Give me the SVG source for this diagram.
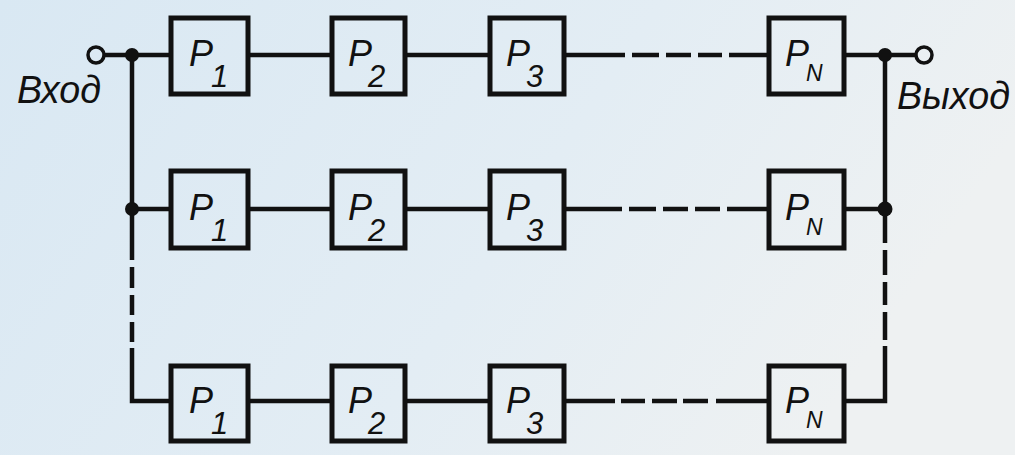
<svg xmlns="http://www.w3.org/2000/svg" width="1015" height="455" viewBox="0 0 1015 455">
<defs>
<linearGradient id="bg" x1="0" y1="0" x2="1" y2="0.3">
<stop offset="0" stop-color="#d9e8f3"/>
<stop offset="0.6" stop-color="#e3edf4"/>
<stop offset="1" stop-color="#eef1f2"/>
</linearGradient>
<style>
.box{fill:none;stroke:#111;stroke-width:5}
.ln{fill:none;stroke:#111;stroke-width:4.5}
.dot{fill:#111}
.term{fill:none;stroke:#111;stroke-width:3.5}
.p{font-family:"Liberation Sans",Arial,sans-serif;font-style:italic;font-size:36px;fill:#111}
.s{font-family:"Liberation Sans",Arial,sans-serif;font-style:italic;font-size:31px;fill:#111}
.sn{font-family:"Liberation Sans",Arial,sans-serif;font-style:italic;font-size:23px;fill:#111}
.lbl{font-family:"Liberation Sans",Arial,sans-serif;font-style:italic;font-size:38px;fill:#111}
</style>
</defs>
<rect x="0" y="0" width="1015" height="455" fill="url(#bg)"/>

<g id="connectors">
<path class="ln" d="M104 55 H171"/>
<path class="ln" d="M248 55 H332 M405 55 H490 M564 55 H566"/>
<path class="ln" d="M566 55 H625 M632 55 H659 M666 55 H691 M698 55 H722 M729 55 H769"/>
<path class="ln" d="M844 55 H916"/>
<path class="ln" d="M132 209 H171 M248 209 H332 M405 209 H490"/>
<path class="ln" d="M564 209 H622 M629 209 H656 M663 209 H688 M695 209 H720 M727 209 H769"/>
<path class="ln" d="M844 209 H885"/>
<path class="ln" d="M248 401 H332 M405 401 H490"/>
<path class="ln" d="M564 401 H615 M621 401 H645 M652 401 H677 M683 401 H708 M716 401 H769"/>
<path class="ln" d="M132 55 V260 M132 267 V288 M132 295 V315 M132 322 V342 M132 348 V401 H171"/>
<path class="ln" d="M885 55 V243 M885 250 V275 M885 282 V305 M885 312 V340 M885 346 V401 H844"/>
<circle class="dot" cx="132" cy="55" r="7"/>
<circle class="dot" cx="132" cy="209" r="7"/>
<circle class="dot" cx="885" cy="55" r="7"/>
<circle class="dot" cx="885" cy="209" r="7.5"/>
</g>

<g id="input">
<circle class="term" cx="96" cy="55" r="8"/>
<text class="lbl" x="17" y="103" textLength="84" lengthAdjust="spacingAndGlyphs">Вход</text>
</g>
<g id="output">
<circle class="term" cx="924" cy="55" r="8"/>
<text class="lbl" x="897" y="109" textLength="113" lengthAdjust="spacingAndGlyphs">Выход</text>
</g>

<g id="r1-p1"><rect class="box" x="171" y="18" width="77" height="76"/><text class="p" x="189" y="66">P</text><text class="s" x="211" y="87">1</text></g>
<g id="r1-p2"><rect class="box" x="332" y="18" width="73" height="76"/><text class="p" x="348" y="66">P</text><text class="s" x="368" y="87">2</text></g>
<g id="r1-p3"><rect class="box" x="490" y="18" width="74" height="76"/><text class="p" x="506" y="66">P</text><text class="s" x="526" y="87">3</text></g>
<g id="r1-pn"><rect class="box" x="769" y="18" width="75" height="76"/><text class="p" x="785" y="66">P</text><text class="sn" x="806" y="81">N</text></g>

<g id="r2-p1"><rect class="box" x="171" y="171" width="77" height="77"/><text class="p" x="189" y="220">P</text><text class="s" x="211" y="241">1</text></g>
<g id="r2-p2"><rect class="box" x="332" y="171" width="73" height="77"/><text class="p" x="348" y="220">P</text><text class="s" x="368" y="241">2</text></g>
<g id="r2-p3"><rect class="box" x="490" y="171" width="74" height="77"/><text class="p" x="506" y="220">P</text><text class="s" x="526" y="241">3</text></g>
<g id="r2-pn"><rect class="box" x="769" y="171" width="75" height="77"/><text class="p" x="785" y="220">P</text><text class="sn" x="806" y="235">N</text></g>

<g id="r3-p1"><rect class="box" x="171" y="366" width="77" height="75"/><text class="p" x="189" y="413">P</text><text class="s" x="211" y="434">1</text></g>
<g id="r3-p2"><rect class="box" x="332" y="366" width="73" height="75"/><text class="p" x="348" y="413">P</text><text class="s" x="368" y="434">2</text></g>
<g id="r3-p3"><rect class="box" x="490" y="366" width="74" height="75"/><text class="p" x="506" y="413">P</text><text class="s" x="526" y="434">3</text></g>
<g id="r3-pn"><rect class="box" x="769" y="366" width="75" height="75"/><text class="p" x="785" y="413">P</text><text class="sn" x="806" y="428">N</text></g>
</svg>
